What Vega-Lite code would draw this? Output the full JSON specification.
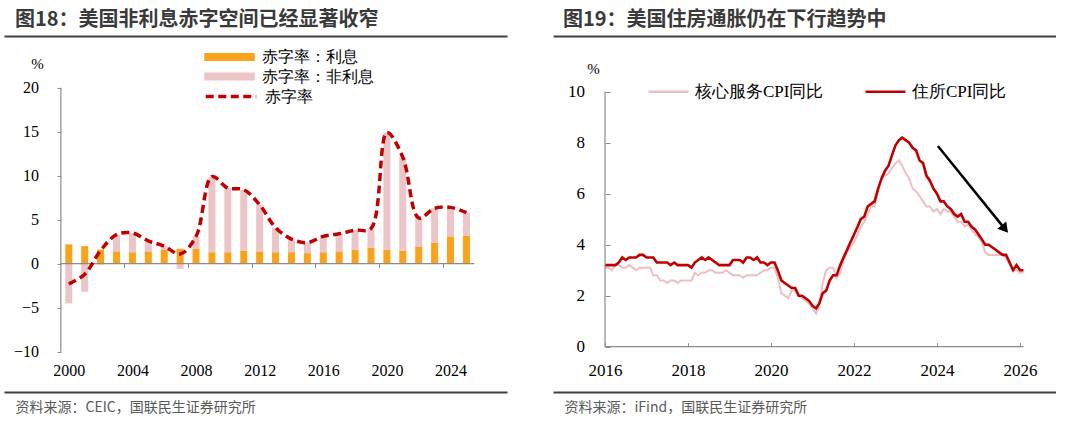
{
  "$schema": "https://vega.github.io/schema/vega-lite/v6.json",
  "background": "white",
  "padding": {"left": 4, "top": 10, "right": 0, "bottom": 0},
  "spacing": 46,
  "resolve": {"scale": {"color": "independent"}},
  "config": {
    "view": {"stroke": null},
    "axis": {"grid": false, "domainColor": "#8C8C8C", "tickColor": "#8C8C8C", "labelColor": "#000000"},
    "legend": {"padding": 0, "labelColor": "#000000", "labelFont": "Liberation Serif", "labelLimit": 300}
  },
  "datasets": {
    "deficit": [
      {"year": 2000, "赤字率：利息": 2.2, "赤字率：非利息": -4.5, "赤字率": -2.3},
      {"year": 2001, "赤字率：利息": 2.0, "赤字率：非利息": -3.2, "赤字率": -1.2},
      {"year": 2002, "赤字率：利息": 1.6, "赤字率：非利息": -0.1, "赤字率": 1.5},
      {"year": 2003, "赤字率：利息": 1.4, "赤字率：非利息": 1.9, "赤字率": 3.3},
      {"year": 2004, "赤字率：利息": 1.3, "赤字率：非利息": 2.2, "赤字率": 3.5},
      {"year": 2005, "赤字率：利息": 1.4, "赤字率：非利息": 1.2, "赤字率": 2.6},
      {"year": 2006, "赤字率：利息": 1.6, "赤字率：非利息": 0.4, "赤字率": 2.0},
      {"year": 2007, "赤字率：利息": 1.7, "赤字率：非利息": -0.6, "赤字率": 1.1},
      {"year": 2008, "赤字率：利息": 1.7, "赤字率：非利息": 1.4, "赤字率": 3.1},
      {"year": 2009, "赤字率：利息": 1.3, "赤字率：非利息": 8.6, "赤字率": 9.9},
      {"year": 2010, "赤字率：利息": 1.3, "赤字率：非利息": 7.3, "赤字率": 8.6},
      {"year": 2011, "赤字率：利息": 1.5, "赤字率：非利息": 6.9, "赤字率": 8.4},
      {"year": 2012, "赤字率：利息": 1.4, "赤字率：非利息": 5.3, "赤字率": 6.7},
      {"year": 2013, "赤字率：利息": 1.3, "赤字率：非利息": 2.8, "赤字率": 4.1},
      {"year": 2014, "赤字率：利息": 1.3, "赤字率：非利息": 1.5, "赤字率": 2.8},
      {"year": 2015, "赤字率：利息": 1.2, "赤字率：非利息": 1.2, "赤字率": 2.4},
      {"year": 2016, "赤字率：利息": 1.3, "赤字率：非利息": 1.8, "赤字率": 3.1},
      {"year": 2017, "赤字率：利息": 1.4, "赤字率：非利息": 2.0, "赤字率": 3.4},
      {"year": 2018, "赤字率：利息": 1.6, "赤字率：非利息": 2.2, "赤字率": 3.8},
      {"year": 2019, "赤字率：利息": 1.8, "赤字率：非利息": 2.2, "赤字率": 4.0},
      {"year": 2020, "赤字率：利息": 1.6, "赤字率：非利息": 13.3, "赤字率": 14.9},
      {"year": 2021, "赤字率：利息": 1.5, "赤字率：非利息": 10.6, "赤字率": 12.1},
      {"year": 2022, "赤字率：利息": 1.9, "赤字率：非利息": 3.3, "赤字率": 5.2},
      {"year": 2023, "赤字率：利息": 2.4, "赤字率：非利息": 3.9, "赤字率": 6.3},
      {"year": 2024, "赤字率：利息": 3.1, "赤字率：非利息": 3.3, "赤字率": 6.4},
      {"year": 2025, "赤字率：利息": 3.2, "赤字率：非利息": 2.6, "赤字率": 5.8}
    ],
    "cpi": [
      {"date": "2016-01-01", "core": 3.1, "shelter": 3.2},
      {"date": "2016-02-01", "core": 3.1, "shelter": 3.2},
      {"date": "2016-03-01", "core": 3.0, "shelter": 3.2},
      {"date": "2016-04-01", "core": 3.2, "shelter": 3.2},
      {"date": "2016-05-01", "core": 3.2, "shelter": 3.3},
      {"date": "2016-06-01", "core": 3.1, "shelter": 3.5},
      {"date": "2016-07-01", "core": 3.1, "shelter": 3.4},
      {"date": "2016-08-01", "core": 3.2, "shelter": 3.5},
      {"date": "2016-09-01", "core": 3.1, "shelter": 3.5},
      {"date": "2016-10-01", "core": 3.0, "shelter": 3.5},
      {"date": "2016-11-01", "core": 3.1, "shelter": 3.6},
      {"date": "2016-12-01", "core": 3.1, "shelter": 3.6},
      {"date": "2017-01-01", "core": 3.1, "shelter": 3.5},
      {"date": "2017-02-01", "core": 3.1, "shelter": 3.5},
      {"date": "2017-03-01", "core": 2.8, "shelter": 3.5},
      {"date": "2017-04-01", "core": 2.8, "shelter": 3.3},
      {"date": "2017-05-01", "core": 2.6, "shelter": 3.3},
      {"date": "2017-06-01", "core": 2.6, "shelter": 3.3},
      {"date": "2017-07-01", "core": 2.5, "shelter": 3.3},
      {"date": "2017-08-01", "core": 2.6, "shelter": 3.2},
      {"date": "2017-09-01", "core": 2.6, "shelter": 3.3},
      {"date": "2017-10-01", "core": 2.5, "shelter": 3.2},
      {"date": "2017-11-01", "core": 2.6, "shelter": 3.2},
      {"date": "2017-12-01", "core": 2.6, "shelter": 3.2},
      {"date": "2018-01-01", "core": 2.6, "shelter": 3.2},
      {"date": "2018-02-01", "core": 2.6, "shelter": 3.1},
      {"date": "2018-03-01", "core": 2.9, "shelter": 3.3},
      {"date": "2018-04-01", "core": 2.8, "shelter": 3.4},
      {"date": "2018-05-01", "core": 2.9, "shelter": 3.5},
      {"date": "2018-06-01", "core": 2.9, "shelter": 3.4},
      {"date": "2018-07-01", "core": 3.0, "shelter": 3.5},
      {"date": "2018-08-01", "core": 3.0, "shelter": 3.4},
      {"date": "2018-09-01", "core": 2.9, "shelter": 3.3},
      {"date": "2018-10-01", "core": 2.9, "shelter": 3.2},
      {"date": "2018-11-01", "core": 2.9, "shelter": 3.2},
      {"date": "2018-12-01", "core": 3.0, "shelter": 3.2},
      {"date": "2019-01-01", "core": 2.9, "shelter": 3.2},
      {"date": "2019-02-01", "core": 2.8, "shelter": 3.4},
      {"date": "2019-03-01", "core": 2.8, "shelter": 3.4},
      {"date": "2019-04-01", "core": 2.8, "shelter": 3.4},
      {"date": "2019-05-01", "core": 2.7, "shelter": 3.3},
      {"date": "2019-06-01", "core": 2.8, "shelter": 3.5},
      {"date": "2019-07-01", "core": 2.8, "shelter": 3.5},
      {"date": "2019-08-01", "core": 2.8, "shelter": 3.4},
      {"date": "2019-09-01", "core": 2.8, "shelter": 3.5},
      {"date": "2019-10-01", "core": 2.9, "shelter": 3.3},
      {"date": "2019-11-01", "core": 3.0, "shelter": 3.3},
      {"date": "2019-12-01", "core": 3.0, "shelter": 3.2},
      {"date": "2020-01-01", "core": 3.1, "shelter": 3.3},
      {"date": "2020-02-01", "core": 3.1, "shelter": 3.3},
      {"date": "2020-03-01", "core": 2.7, "shelter": 3.0},
      {"date": "2020-04-01", "core": 2.1, "shelter": 2.6},
      {"date": "2020-05-01", "core": 2.0, "shelter": 2.5},
      {"date": "2020-06-01", "core": 1.9, "shelter": 2.4},
      {"date": "2020-07-01", "core": 2.2, "shelter": 2.3},
      {"date": "2020-08-01", "core": 2.2, "shelter": 2.3},
      {"date": "2020-09-01", "core": 2.0, "shelter": 2.0},
      {"date": "2020-10-01", "core": 1.9, "shelter": 2.0},
      {"date": "2020-11-01", "core": 1.8, "shelter": 1.9},
      {"date": "2020-12-01", "core": 1.7, "shelter": 1.8},
      {"date": "2021-01-01", "core": 1.5, "shelter": 1.6},
      {"date": "2021-02-01", "core": 1.3, "shelter": 1.5},
      {"date": "2021-03-01", "core": 1.6, "shelter": 1.7},
      {"date": "2021-04-01", "core": 2.5, "shelter": 2.1},
      {"date": "2021-05-01", "core": 3.0, "shelter": 2.2},
      {"date": "2021-06-01", "core": 3.1, "shelter": 2.6},
      {"date": "2021-07-01", "core": 3.1, "shelter": 2.8},
      {"date": "2021-08-01", "core": 2.7, "shelter": 2.8},
      {"date": "2021-09-01", "core": 2.9, "shelter": 3.2},
      {"date": "2021-10-01", "core": 3.4, "shelter": 3.5},
      {"date": "2021-11-01", "core": 3.7, "shelter": 3.8},
      {"date": "2021-12-01", "core": 3.9, "shelter": 4.1},
      {"date": "2022-01-01", "core": 4.1, "shelter": 4.4},
      {"date": "2022-02-01", "core": 4.4, "shelter": 4.7},
      {"date": "2022-03-01", "core": 4.7, "shelter": 5.0},
      {"date": "2022-04-01", "core": 4.9, "shelter": 5.1},
      {"date": "2022-05-01", "core": 5.2, "shelter": 5.5},
      {"date": "2022-06-01", "core": 5.5, "shelter": 5.6},
      {"date": "2022-07-01", "core": 5.5, "shelter": 5.7},
      {"date": "2022-08-01", "core": 6.1, "shelter": 6.2},
      {"date": "2022-09-01", "core": 6.7, "shelter": 6.6},
      {"date": "2022-10-01", "core": 6.7, "shelter": 6.9},
      {"date": "2022-11-01", "core": 6.8, "shelter": 7.1},
      {"date": "2022-12-01", "core": 7.0, "shelter": 7.5},
      {"date": "2023-01-01", "core": 7.2, "shelter": 7.9},
      {"date": "2023-02-01", "core": 7.3, "shelter": 8.1},
      {"date": "2023-03-01", "core": 7.1, "shelter": 8.2},
      {"date": "2023-04-01", "core": 6.8, "shelter": 8.1},
      {"date": "2023-05-01", "core": 6.6, "shelter": 8.0},
      {"date": "2023-06-01", "core": 6.2, "shelter": 7.8},
      {"date": "2023-07-01", "core": 6.1, "shelter": 7.7},
      {"date": "2023-08-01", "core": 5.9, "shelter": 7.3},
      {"date": "2023-09-01", "core": 5.7, "shelter": 7.2},
      {"date": "2023-10-01", "core": 5.5, "shelter": 6.7},
      {"date": "2023-11-01", "core": 5.5, "shelter": 6.5},
      {"date": "2023-12-01", "core": 5.3, "shelter": 6.2},
      {"date": "2024-01-01", "core": 5.4, "shelter": 6.0},
      {"date": "2024-02-01", "core": 5.2, "shelter": 5.7},
      {"date": "2024-03-01", "core": 5.4, "shelter": 5.7},
      {"date": "2024-04-01", "core": 5.3, "shelter": 5.5},
      {"date": "2024-05-01", "core": 5.3, "shelter": 5.4},
      {"date": "2024-06-01", "core": 5.1, "shelter": 5.2},
      {"date": "2024-07-01", "core": 4.9, "shelter": 5.1},
      {"date": "2024-08-01", "core": 4.9, "shelter": 5.2},
      {"date": "2024-09-01", "core": 4.7, "shelter": 4.9},
      {"date": "2024-10-01", "core": 4.8, "shelter": 4.9},
      {"date": "2024-11-01", "core": 4.6, "shelter": 4.7},
      {"date": "2024-12-01", "core": 4.4, "shelter": 4.6},
      {"date": "2025-01-01", "core": 4.3, "shelter": 4.4},
      {"date": "2025-02-01", "core": 4.1, "shelter": 4.2},
      {"date": "2025-03-01", "core": 3.7, "shelter": 4.0},
      {"date": "2025-04-01", "core": 3.6, "shelter": 4.0},
      {"date": "2025-05-01", "core": 3.6, "shelter": 3.9},
      {"date": "2025-06-01", "core": 3.6, "shelter": 3.8},
      {"date": "2025-07-01", "core": 3.6, "shelter": 3.7},
      {"date": "2025-08-01", "core": 3.6, "shelter": 3.6},
      {"date": "2025-09-01", "core": 3.5, "shelter": 3.6},
      {"date": "2025-11-01", "core": 3.0, "shelter": 3.0},
      {"date": "2025-12-01", "core": 3.0, "shelter": 3.2},
      {"date": "2026-01-01", "core": 2.9, "shelter": 3.0},
      {"date": "2026-02-01", "core": 2.9, "shelter": 3.0}
    ],
    "arrow": [
      {"x": "2024-01-09", "y": 7.87, "x2": "2025-08-12", "y2": 4.67}
    ]
  },
  "hconcat": [
    {
      "width": 503,
      "height": 356,
      "title": {"text": "图18：美国非利息赤字空间已经显著收窄", "anchor": "start", "frame": "group", "dx": 11, "offset": 6, "font": "Noto Sans CJK SC", "fontSize": 20, "fontWeight": "bold", "color": "#3A3A3A"},
      "resolve": {"scale": {"color": "independent"}, "axis": {"x": "independent", "y": "independent"}},
      "layer": [
        {
          "data": {"name": "deficit"},
          "transform": [{"fold": ["赤字率：利息", "赤字率：非利息"], "as": ["k", "v"]}],
          "mark": {"type": "bar", "width": 7},
          "encoding": {
            "x": {"field": "year", "type": "quantitative",
              "scale": {"domain": [1996.241, 2027.237], "nice": false, "zero": false},
              "axis": {"orient": "bottom", "offset": -128.5, "domain": false, "ticks": false, "tickSize": 0, "labelPadding": 107, "labelBaseline": "middle", "labelAlign": "center", "labelAngle": 0, "format": "d", "values": [2000, 2004, 2008, 2012, 2016, 2020, 2024], "labelFont": "Liberation Serif", "labelFontSize": 16, "title": null}},
            "y": {"field": "v", "type": "quantitative", "stack": "zero",
              "scale": {"domain": [-14.58, 25.875], "nice": false, "zero": false},
              "axis": {"orient": "left", "offset": -53, "domain": false, "values": [-10, -5, 0, 5, 10, 15, 20], "tickSize": -4, "labelPadding": 22.5, "labelFont": "Liberation Serif", "labelFontSize": 16, "title": "%", "titleAngle": 0, "titleX": -20, "titleY": 27, "titleAlign": "center", "titleBaseline": "middle", "titleFont": "Liberation Serif", "titleFontSize": 15, "titleFontWeight": "normal", "titleColor": "#000000"}},
            "color": {"field": "k", "type": "nominal",
              "scale": {"domain": ["赤字率：利息", "赤字率：非利息"], "range": ["#F9A21B", "#EBC5C8"]},
              "legend": {"orient": "none", "legendX": 200, "legendY": 13, "title": null, "symbolType": "M-1,-0.16H1V0.16H-1Z", "symbolSize": 2550, "symbolStrokeWidth": 0, "clipHeight": 16, "rowPadding": 3.5, "labelOffset": 7, "labelFontSize": 16}},
            "order": {"field": "k", "sort": "ascending"}
          }
        },
        {
          "data": {"values": [{}]},
          "mark": {"type": "rule", "color": "#8C8C8C", "strokeWidth": 1.2},
          "encoding": {
            "x": {"datum": 1999.5, "type": "quantitative",
              "axis": {"orient": "bottom", "offset": 0, "domain": true, "domainColor": "#404040", "domainWidth": 2.2, "ticks": false, "labels": false, "title": "资料来源：CEIC，国联民生证券研究所", "titleX": 11, "titleY": 15, "titleAlign": "left", "titleBaseline": "middle", "titleFont": "Noto Sans CJK SC", "titleFontSize": 14, "titleFontWeight": "normal", "titleColor": "#595959"}},
            "x2": {"datum": 2025.5},
            "y": {"datum": 0, "type": "quantitative", "axis": null}
          }
        },
        {
          "data": {"values": [{}]},
          "mark": {"type": "rule", "color": "#8C8C8C", "strokeWidth": 1.2},
          "encoding": {
            "x": {"datum": 1999.5, "type": "quantitative",
              "axis": {"orient": "bottom", "offset": -128.5, "domain": false, "labels": false, "ticks": true, "tickSize": 4, "tickColor": "#8C8C8C", "values": [2003.5, 2007.5, 2011.5, 2015.5, 2019.5, 2023.5], "title": null}},
            "y": {"datum": 20, "type": "quantitative", "axis": null},
            "y2": {"datum": -10}
          }
        },
        {
          "data": {"name": "deficit"},
          "mark": {"type": "line", "interpolate": "catmull-rom", "strokeWidth": 3.5, "strokeDash": [8, 4.5]},
          "encoding": {
            "x": {"field": "year", "type": "quantitative",
              "axis": {"orient": "top", "domain": true, "domainColor": "#404040", "domainWidth": 2.2, "ticks": false, "labels": false, "title": null}},
            "y": {"field": "赤字率", "type": "quantitative", "axis": null},
            "color": {"datum": "赤字率",
              "scale": {"domain": ["赤字率"], "range": ["#C00000"]},
              "legend": {"orient": "none", "legendX": 200, "legendY": 52.5, "title": null, "symbolType": "stroke", "symbolSize": 2550, "symbolStrokeWidth": 3.5, "symbolDash": [8, 4.5], "clipHeight": 16, "labelOffset": 7, "labelFontSize": 16}}
          }
        }
      ]
    },
    {
      "width": 503,
      "height": 356,
      "title": {"text": "图19：美国住房通胀仍在下行趋势中", "anchor": "start", "frame": "group", "dx": 10, "offset": 6, "font": "Noto Sans CJK SC", "fontSize": 20, "fontWeight": "bold", "color": "#3A3A3A"},
      "resolve": {"axis": {"x": "independent", "y": "independent"}},
      "layer": [
        {
          "data": {"name": "cpi"},
          "mark": {"type": "line", "strokeWidth": 2},
          "encoding": {
            "x": {"field": "date", "type": "temporal",
              "scale": {"type": "utc", "domain": [{"year": 2014, "month": 9, "date": 30, "hours": 7, "utc": true}, {"year": 2026, "month": 11, "date": 13, "hours": 22, "utc": true}]},
              "axis": {"orient": "bottom", "offset": -45.3, "domain": false, "tickSize": -4, "labelPadding": 28, "labelBaseline": "middle", "labelAlign": "center", "labelAngle": 0, "format": "%Y", "labelFont": "Liberation Serif", "labelFontSize": 17, "title": null,
                "values": [{"year": 2016, "month": 1, "date": 1, "utc": true}, {"year": 2018, "month": 1, "date": 1, "utc": true}, {"year": 2020, "month": 1, "date": 1, "utc": true}, {"year": 2022, "month": 1, "date": 1, "utc": true}, {"year": 2024, "month": 1, "date": 1, "utc": true}, {"year": 2026, "month": 1, "date": 1, "utc": true}]}},
            "y": {"field": "core", "type": "quantitative",
              "scale": {"domain": [-1.776, 12.184], "nice": false, "zero": false},
              "axis": {"orient": "left", "offset": -52, "domain": false, "values": [0, 2, 4, 6, 8, 10], "tickSize": -5, "labelPadding": 25.5, "labelFont": "Liberation Serif", "labelFontSize": 17, "title": "%", "titleAngle": 0, "titleX": -12, "titleY": 32, "titleAlign": "center", "titleBaseline": "middle", "titleFont": "Liberation Serif", "titleFontSize": 15, "titleFontWeight": "normal", "titleColor": "#000000"}},
            "color": {"datum": "核心服务CPI同比",
              "scale": {"domain": ["核心服务CPI同比", "住所CPI同比"], "range": ["#EBBFC3", "#C00000"]},
              "legend": {"orient": "none", "direction": "horizontal", "legendX": 94, "legendY": 46.7, "title": null, "symbolType": "stroke", "symbolSize": 1600, "symbolStrokeWidth": 2.5, "clipHeight": 18, "labelOffset": 5, "columnPadding": 40, "labelFontSize": 17}}
          }
        },
        {
          "data": {"name": "cpi"},
          "mark": {"type": "line", "strokeWidth": 2.6},
          "encoding": {
            "x": {"field": "date", "type": "temporal",
              "axis": {"orient": "top", "domain": true, "domainColor": "#404040", "domainWidth": 2.2, "ticks": false, "labels": false, "title": null}},
            "y": {"field": "shelter", "type": "quantitative", "axis": null},
            "color": {"datum": "住所CPI同比"}
          }
        },
        {
          "data": {"values": [{}]},
          "mark": {"type": "rule", "color": "#8C8C8C", "strokeWidth": 1.2},
          "encoding": {
            "x": {"datum": {"year": 2016, "month": 1, "date": 1, "utc": true}, "type": "temporal",
              "axis": {"orient": "bottom", "offset": 0, "domain": true, "domainColor": "#404040", "domainWidth": 2.2, "ticks": false, "labels": false, "title": "资料来源：iFind，国联民生证券研究所", "titleX": 11, "titleY": 15, "titleAlign": "left", "titleBaseline": "middle", "titleFont": "Noto Sans CJK SC", "titleFontSize": 14, "titleFontWeight": "normal", "titleColor": "#595959"}},
            "x2": {"datum": {"year": 2026, "month": 2, "date": 1, "utc": true}},
            "y": {"datum": 0, "type": "quantitative", "axis": null}
          }
        },
        {
          "data": {"values": [{}]},
          "mark": {"type": "rule", "color": "#8C8C8C", "strokeWidth": 1.2},
          "encoding": {
            "x": {"datum": {"year": 2016, "month": 1, "date": 1, "utc": true}, "type": "temporal", "axis": null},
            "y": {"datum": 0, "type": "quantitative", "axis": null},
            "y2": {"datum": 10}
          }
        },
        {
          "data": {"name": "arrow"},
          "mark": {"type": "rule", "color": "#000000", "strokeWidth": 2.5},
          "encoding": {
            "x": {"field": "x", "type": "temporal", "axis": null},
            "x2": {"field": "x2"},
            "y": {"field": "y", "type": "quantitative", "axis": null},
            "y2": {"field": "y2"}
          }
        },
        {
          "data": {"name": "arrow"},
          "mark": {"type": "point", "shape": "triangle", "filled": true, "color": "#000000", "opacity": 1, "size": 130, "angle": 141},
          "encoding": {
            "x": {"field": "x2", "type": "temporal", "axis": null},
            "y": {"field": "y2", "type": "quantitative", "axis": null}
          }
        }
      ]
    }
  ]
}
